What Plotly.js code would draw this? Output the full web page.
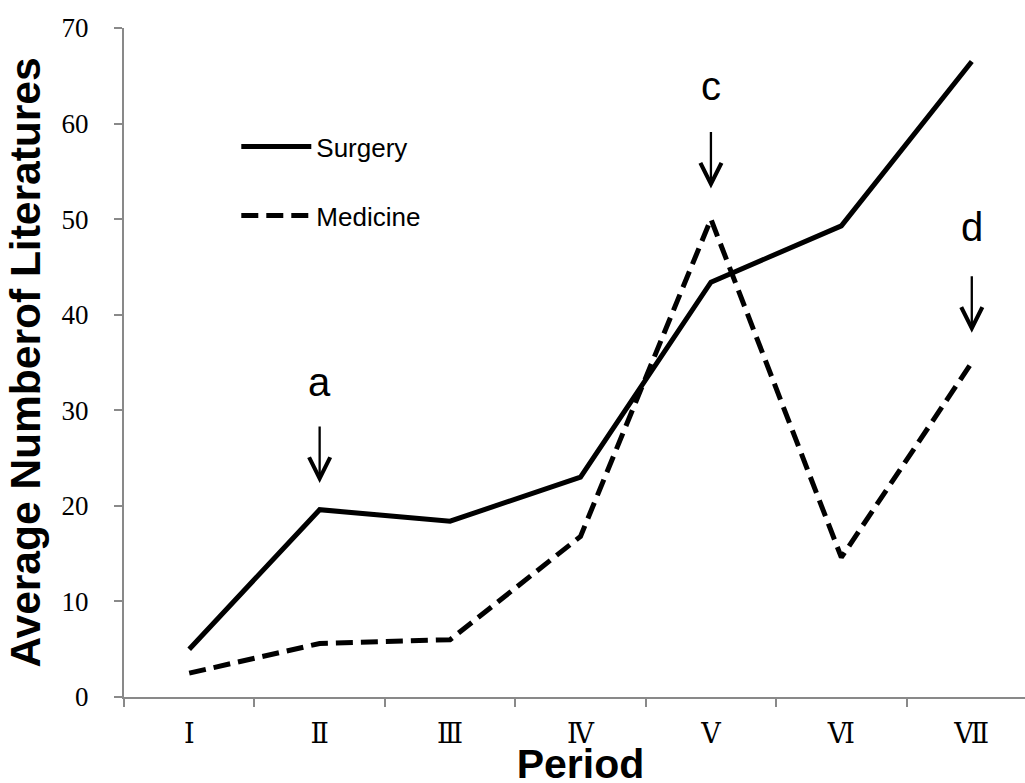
<!DOCTYPE html>
<html><head><meta charset="utf-8">
<script src="https://cdn.plot.ly/plotly-3.0.1.min.js"></script>
<style>html,body{margin:0;padding:0;overflow:hidden;background:#fff}#wrap{width:1025px;height:783px;overflow:hidden;position:relative}#chart{width:1040px;height:787px}</style>
</head><body><div id="wrap"><div id="chart"></div></div><script>
const periods = ['Ⅰ','Ⅱ','Ⅲ','Ⅳ','Ⅴ','Ⅵ','Ⅶ'];
const surgery = [5.0, 19.6, 18.4, 23.0, 43.4, 49.3, 66.5];
const medicine = [2.5, 5.6, 6.0, 16.8, 50.0, 14.6, 35.0];
const seriesNames = ['Surgery', 'Medicine'];
const yTicks = [0, 10, 20, 30, 40, 50, 60, 70];
const marks = [
  {label: 'a', period: 'Ⅱ', textY: 33.0, tipY: 22.4},
  {label: 'c', period: 'Ⅴ', textY: 63.9, tipY: 53.2},
  {label: 'd', period: 'Ⅶ', textY: 49.2, tipY: 38.1}
];

const axisColor = '#898989';
const traces = [
  {x: periods, y: surgery, name: seriesNames[0], type: 'scatter', mode: 'lines',
   line: {color: '#000', width: 5}, legendgroup: 'g1'},
  {x: periods, y: medicine, name: seriesNames[1], type: 'scatter', mode: 'lines',
   line: {color: '#000', width: 5, dash: '17px,8px'}, legendgroup: 'g2'}
];

const annotations = [];
marks.forEach(m => {
  annotations.push({x: m.period, y: m.textY, xref: 'x', yref: 'y', text: m.label, showarrow: false,
    font: {family: 'Liberation Sans, Arial, sans-serif', size: 40, color: '#000'}});
  annotations.push({x: m.period, y: m.tipY, xref: 'x', yref: 'y', text: '', showarrow: true,
    ax: 0, ay: -58, arrowhead: 5, arrowwidth: 2.3, arrowsize: 1.8, arrowcolor: '#000'});
});

const layout = {
  width: 1040, height: 787,
  margin: {l: 124, r: 2.5, t: 28, b: 90},
  paper_bgcolor: '#fff', plot_bgcolor: '#fff',
  showlegend: true,
  legend: {x: 0.123, y: 0.771, xanchor: 'left', yanchor: 'middle', bgcolor: 'rgba(0,0,0,0)',
    font: {family: 'Liberation Sans, Arial, sans-serif', size: 26, color: '#000'},
    traceorder: 'grouped', tracegroupgap: 32, itemwidth: 70},
  xaxis: {type: 'category', range: [-0.5, 6.5], tickson: 'boundaries', ticks: 'outside', ticklen: 8,
    tickcolor: axisColor, tickwidth: 2, showline: true, linecolor: axisColor, linewidth: 2,
    showgrid: false, zeroline: false, ticklabelstandoff: 12,
    tickfont: {family: 'Liberation Serif, DejaVu Serif, serif', size: 27, color: '#000'},
    title: {text: 'Period', standoff: 20, font: {family: 'Liberation Sans, Arial, sans-serif', size: 41, color: '#000', weight: 'bold'}},
    automargin: false, fixedrange: true},
  yaxis: {range: [0, 70], tickmode: 'array', tickvals: yTicks, ticktext: yTicks.map(String), ticks: 'outside', ticklen: 8,
    tickcolor: axisColor, tickwidth: 2, showline: true, linecolor: axisColor, linewidth: 2,
    showgrid: false, zeroline: false, ticklabelstandoff: 20,
    tickfont: {family: 'Liberation Serif, DejaVu Serif, serif', size: 27, color: '#000'},
    title: {text: 'Average Numberof Literatures', standoff: 8, font: {family: 'Liberation Sans, Arial, sans-serif', size: 42.5, color: '#000', weight: 'bold'}},
    automargin: false, fixedrange: true},
  annotations: annotations
};

Plotly.newPlot('chart', traces, layout, {displayModeBar: false, staticPlot: true});
</script></body></html>
